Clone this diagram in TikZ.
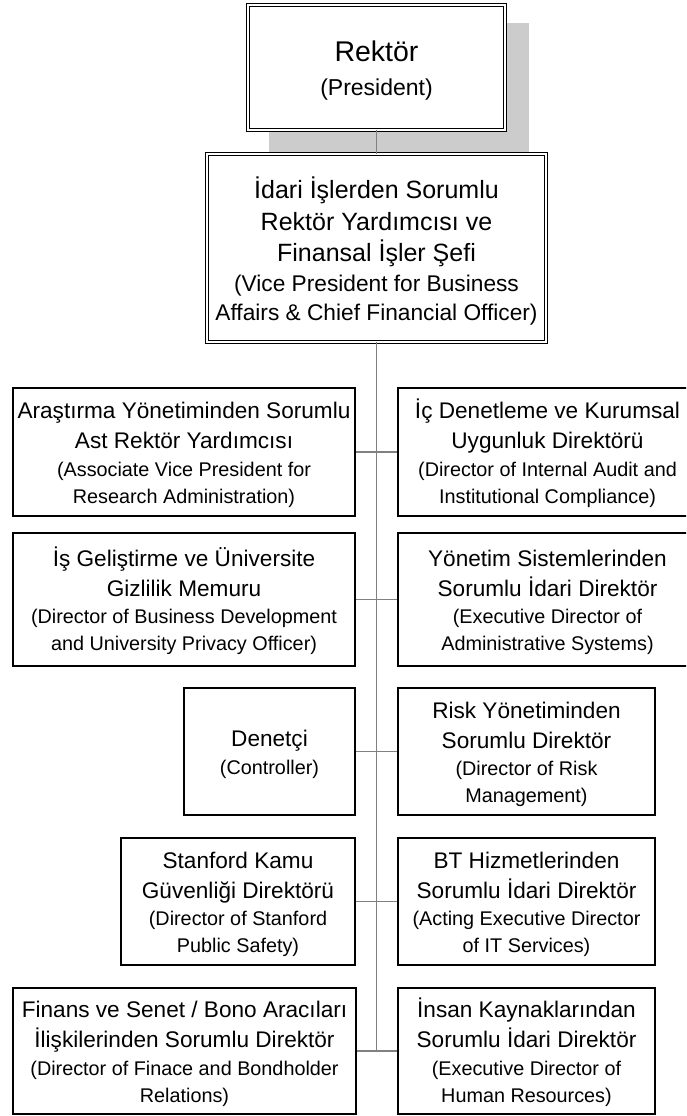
\documentclass[tikz,border=0pt]{standalone}
\usepackage{fontspec}
\setmainfont{Liberation Sans}
% type sizes for the three kinds of boxes
\newcommand\topbig{\fontsize{28.5}{34}\selectfont}
\newcommand\topsm{\fontsize{23}{28}\selectfont}
\newcommand\vpbig{\fontsize{25}{31.5}\selectfont}
\newcommand\vpsm{\fontsize{22.7}{28.3}\selectfont}
\newcommand\ubig{\fontsize{22.6}{30}\selectfont}
\newcommand\usm{\fontsize{19.8}{27.5}\selectfont}
% fixed ascent of the first line and descent of the last line,
% so that every block sits at the same place in its box
\newcommand\hi[1]{\rule{0pt}{#1}}
\newcommand\lo[1]{\rule[-#1]{0pt}{#1}}
\newcommand\uhi{\hi{23pt}}
\newcommand\ulo{\lo{5pt}}
\definecolor{linkgray}{RGB}{128,128,128}
\definecolor{shadowgray}{RGB}{204,204,204}
\begin{document}
\begin{tikzpicture}[x=1pt,y=-1pt,
  unit/.style={draw=black, line width=1.2pt, fill=white, inner sep=0pt,
    align=center, font=\ubig},
  headbox/.style={draw=black, double=white, double distance=2.2pt,
    line width=1.1pt, fill=white, inner sep=0pt, align=center},
  link/.style={draw=linkgray, line width=1.1pt},
  spine/.style={draw=linkgray, line width=1.8pt}]
\useasboundingbox (0,0) rectangle (686,1116);
\clip (0,0) rectangle (686,1116);

% shadow behind the president's box
\fill[shadowgray] (269,23) rectangle (529,153);

\node[headbox, font=\topbig, minimum width=257pt, minimum height=124.6pt]
  (pres) at (376.5,67.5) {\hi{27.6pt}Rektör\\{\topsm (President)\lo{6pt}}};

\node[headbox, font=\vpbig, minimum width=338.6pt, minimum height=187.6pt]
  (vp) at (376.5,248) {\hi{29pt}İdari İşlerden Sorumlu\\Rektör Yardımcısı ve\\Finansal İşler Şefi\\[-1.5pt]%
  \vpsm (Vice President for Business\\[-3pt]\vpsm Affairs \& Chief Financial Officer)\lo{5.6pt}};

% row 1
\node[unit, minimum width=342pt, minimum height=128pt] (a1) at (184,452)
  {\uhi Araştırma Yönetiminden Sorumlu\\Ast Rektör Yardımcısı\\[-2.6pt]%
  \usm (Associate Vice President for\\[-3.3pt]\usm Research Administration)\ulo};
\node[unit, minimum width=299pt, minimum height=128pt] (b1) at (547.5,452)
  {\uhi İç Denetleme ve Kurumsal\\Uygunluk Direktörü\\[-2.6pt]%
  \usm (Director of Internal Audit and\\[-3.3pt]\usm Institutional Compliance)\ulo};

% row 2
\node[unit, minimum width=342pt, minimum height=133pt] (a2) at (184,599.5)
  {\uhi İş Geliştirme ve Üniversite\\Gizlilik Memuru\\[-2.6pt]%
  \usm (Director of Business Development\\[-3.3pt]\usm and University Privacy Officer)\ulo};
\node[unit, minimum width=299pt, minimum height=133pt] (b2) at (547.5,599.5)
  {\uhi Yönetim Sistemlerinden\\Sorumlu İdari Direktör\\[-2.6pt]%
  \usm (Executive Director of\\[-3.3pt]\usm Administrative Systems)\ulo};

% row 3
\node[unit, minimum width=171pt, minimum height=127pt] (a3) at (269.5,751.5)
  {\uhi Denetçi\\[-2.6pt]\usm (Controller)\ulo};
\node[unit, minimum width=257pt, minimum height=127pt] (b3) at (526.5,751.5)
  {\uhi Risk Yönetiminden\\Sorumlu Direktör\\[-2.6pt]%
  \usm (Director of Risk\\[-3.3pt]\usm Management)\ulo};

% row 4
\node[unit, minimum width=234pt, minimum height=127pt] (a4) at (238,901.5)
  {\uhi Stanford Kamu\\Güvenliği Direktörü\\[-2.6pt]%
  \usm (Director of Stanford\\[-3.3pt]\usm Public Safety)\ulo};
\node[unit, minimum width=257pt, minimum height=127pt] (b4) at (526.5,901.5)
  {\uhi BT Hizmetlerinden\\Sorumlu İdari Direktör\\[-2.6pt]%
  \usm (Acting Executive Director\\[-3.3pt]\usm of IT Services)\ulo};

% row 5
\node[unit, minimum width=343pt, minimum height=126pt] (a5) at (184.5,1051)
  {\uhi Finans ve Senet / Bono Aracıları\\İlişkilerinden Sorumlu Direktör\\[-2.6pt]%
  \usm (Director of Finace and Bondholder\\[-3.3pt]\usm Relations)\ulo};
\node[unit, minimum width=257pt, minimum height=126pt] (b5) at (526.5,1051)
  {\uhi İnsan Kaynaklarından\\Sorumlu İdari Direktör\\[-2.6pt]%
  \usm (Executive Director of\\[-3.3pt]\usm Human Resources)\ulo};

% reporting lines
\draw[link] (pres.south) -- (vp.north);
\draw[spine] (vp.south) -- (vp.south |- a5.east);
\foreach \r in {1,...,5} {
  \draw[link] (a\r.east) -- (b\r.west);
}
\end{tikzpicture}
\end{document}
